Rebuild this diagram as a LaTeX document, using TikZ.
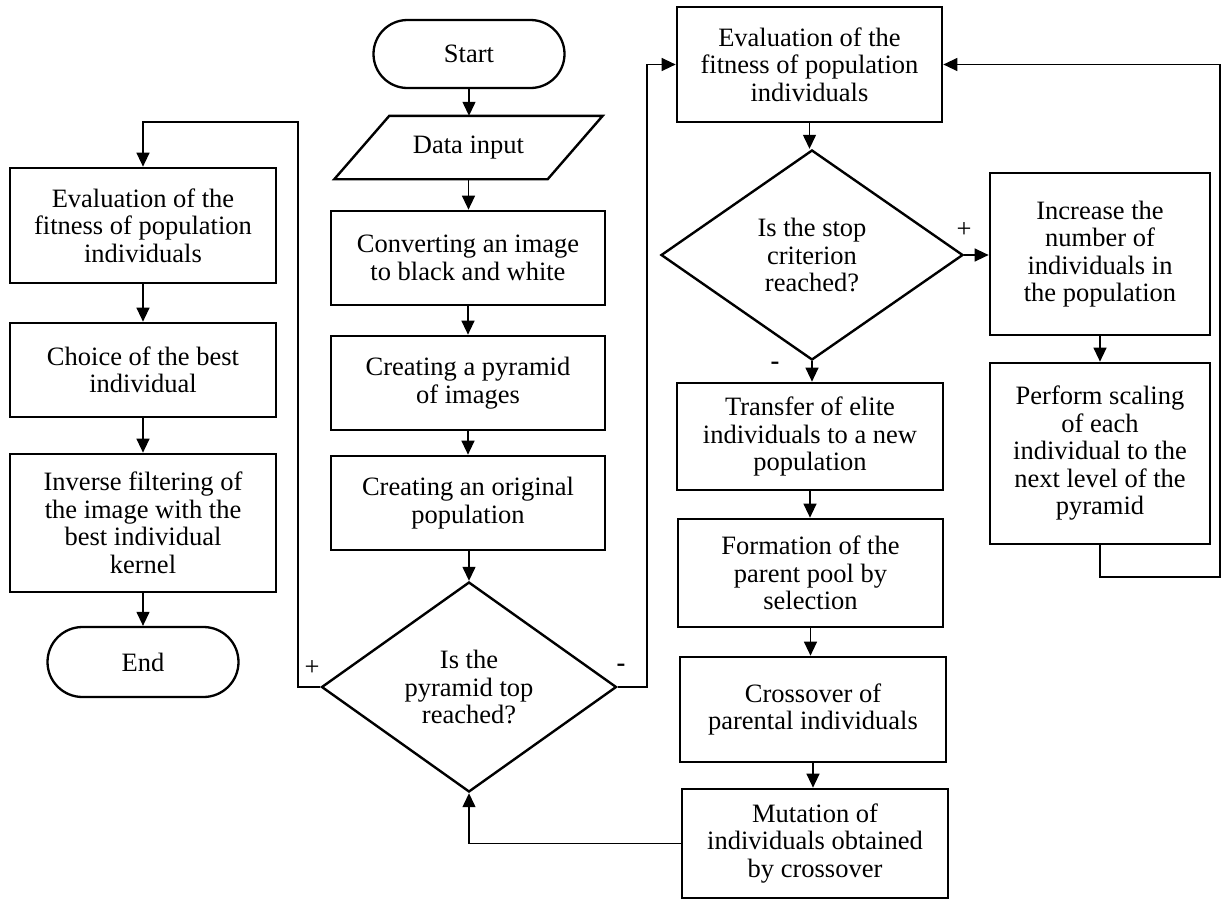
\documentclass[tikz,border=0pt]{standalone}
\usepackage{fontspec}
\setmainfont{Liberation Serif}
\usetikzlibrary{shapes.geometric,arrows.meta,calc}
\begin{document}
\begin{tikzpicture}[x=1pt,y=-1pt,
  every node/.style={font=\fontsize{26.5}{27.5}\selectfont, align=center, inner sep=0pt},
  box/.style={draw, line width=2.7pt, rectangle},
  term/.style={draw, line width=2.3pt, rectangle, rounded corners=34pt},
  dec/.style={draw, line width=2.4pt, diamond},
  conn/.style={line width=1.3pt, -{Triangle[length=14pt,width=13pt]}},
  lbl/.style={font=\fontsize{26.5}{27.5}\selectfont}
]
\useasboundingbox (0,0) rectangle (1221,900);

% centre column
\node[term, minimum width=191pt, minimum height=68pt] (start) at (469,54) {Start};
\node[minimum width=213pt, minimum height=63pt] (data) at (468.5,147.5) {Data input};
\draw[line width=2.4pt] ([xshift=-27.5pt]data.south west) -- ([xshift=-27.5pt]data.south east)
  -- ([xshift=27.5pt]data.north east) -- ([xshift=27.5pt]data.north west) -- cycle;
\node[box, minimum width=274pt, minimum height=94pt] (C1) at (468,258) {Converting an image\\to black and white};
\node[box, minimum width=274pt, minimum height=94pt] (C2) at (468,383) {Creating a pyramid\\of images};
\node[box, minimum width=274pt, minimum height=94pt] (C3) at (468,503) {Creating an original\\population};
\node[dec, minimum width=295pt, minimum height=210pt] (D1) at (469,687) {Is the\\pyramid top\\reached?};

% left column
\node[box, minimum width=266pt, minimum height=115pt] (L1) at (143,225.5) {Evaluation of the\\fitness of population\\individuals};
\node[box, minimum width=266pt, minimum height=94pt] (L2) at (143,370) {Choice of the best\\individual};
\node[box, minimum width=266pt, minimum height=138pt] (L3) at (143,523) {Inverse filtering of\\the image with the\\best individual\\kernel};
\node[term, rounded corners=35pt, minimum width=191pt, minimum height=70pt] (End) at (143,662) {End};

% centre-right column
\node[box, minimum width=265pt, minimum height=115pt] (R1) at (809.5,64.5) {Evaluation of the\\fitness of population\\individuals};
\node[dec, minimum width=302pt, minimum height=210pt] (D2) at (812,255) {Is the stop\\criterion\\reached?};
\node[box, minimum width=266pt, minimum height=107pt] (T) at (810,436.5) {Transfer of elite\\individuals to a new\\population};
\node[box, minimum width=265pt, minimum height=108pt] (F) at (810.5,573) {Formation of the\\parent pool by\\selection};
\node[box, minimum width=266pt, minimum height=105pt] (X) at (813,709.5) {Crossover of\\parental individuals};
\node[box, minimum width=266pt, minimum height=109pt] (M) at (815,843.5) {Mutation of\\individuals obtained\\by crossover};

% right column
\node[box, minimum width=220pt, minimum height=162pt] (I) at (1100,254) {Increase the\\number of\\individuals in\\the population};
\node[box, minimum width=220pt, minimum height=181pt] (P) at (1100,453.5) {Perform scaling\\of each\\individual to the\\next level of the\\pyramid};

% labels
\node[lbl] (plusA) at (312,668) {+};
\node[lbl] (minusA) at (621,668) {\bfseries -};
\node[lbl] (plusB) at (964,230) {+};
\node[lbl] (minusB) at (775,366) {\bfseries -};

% helper coordinates
\coordinate (lp) at (298,122);
\coordinate (rp) at (647,64.5);
\coordinate (cp) at (1220,577);

% connectors
\draw[conn] (start.south) -- (start.south |- data.north);
\draw[conn] (data.south) -- (data.south |- C1.north);
\draw[conn] (C1.south) -- (C1.south |- C2.north);
\draw[conn] (C2.south) -- (C2.south |- C3.north);
\draw[conn] (C3.south -| D1.north) -- (D1.north);
\draw[conn] (D1.west) -| (lp) -| (L1.north);
\draw[conn] (L1.south) -- (L1.south |- L2.north);
\draw[conn] (L2.south) -- (L2.south |- L3.north);
\draw[conn] (L3.south) -- (L3.south |- End.north);
\draw[conn] (D1.east) -| (rp) -- (R1.west);
\draw[conn] (R1.south) -- (R1.south |- D2.north);
\draw[conn] (D2.east) -- (D2.east -| I.west);
\draw[conn] (D2.south) -- (D2.south |- T.north);
\draw[conn] (T.south) -- (T.south |- F.north);
\draw[conn] (F.south) -- (F.south |- X.north);
\draw[conn] (X.south) -- (X.south |- M.north);
\draw[conn] (M.west) -| (D1.south);
\draw[conn] (I.south) -- (I.south |- P.north);
\draw[conn] (P.south) |- (cp) |- (R1.east);
\end{tikzpicture}
\end{document}
